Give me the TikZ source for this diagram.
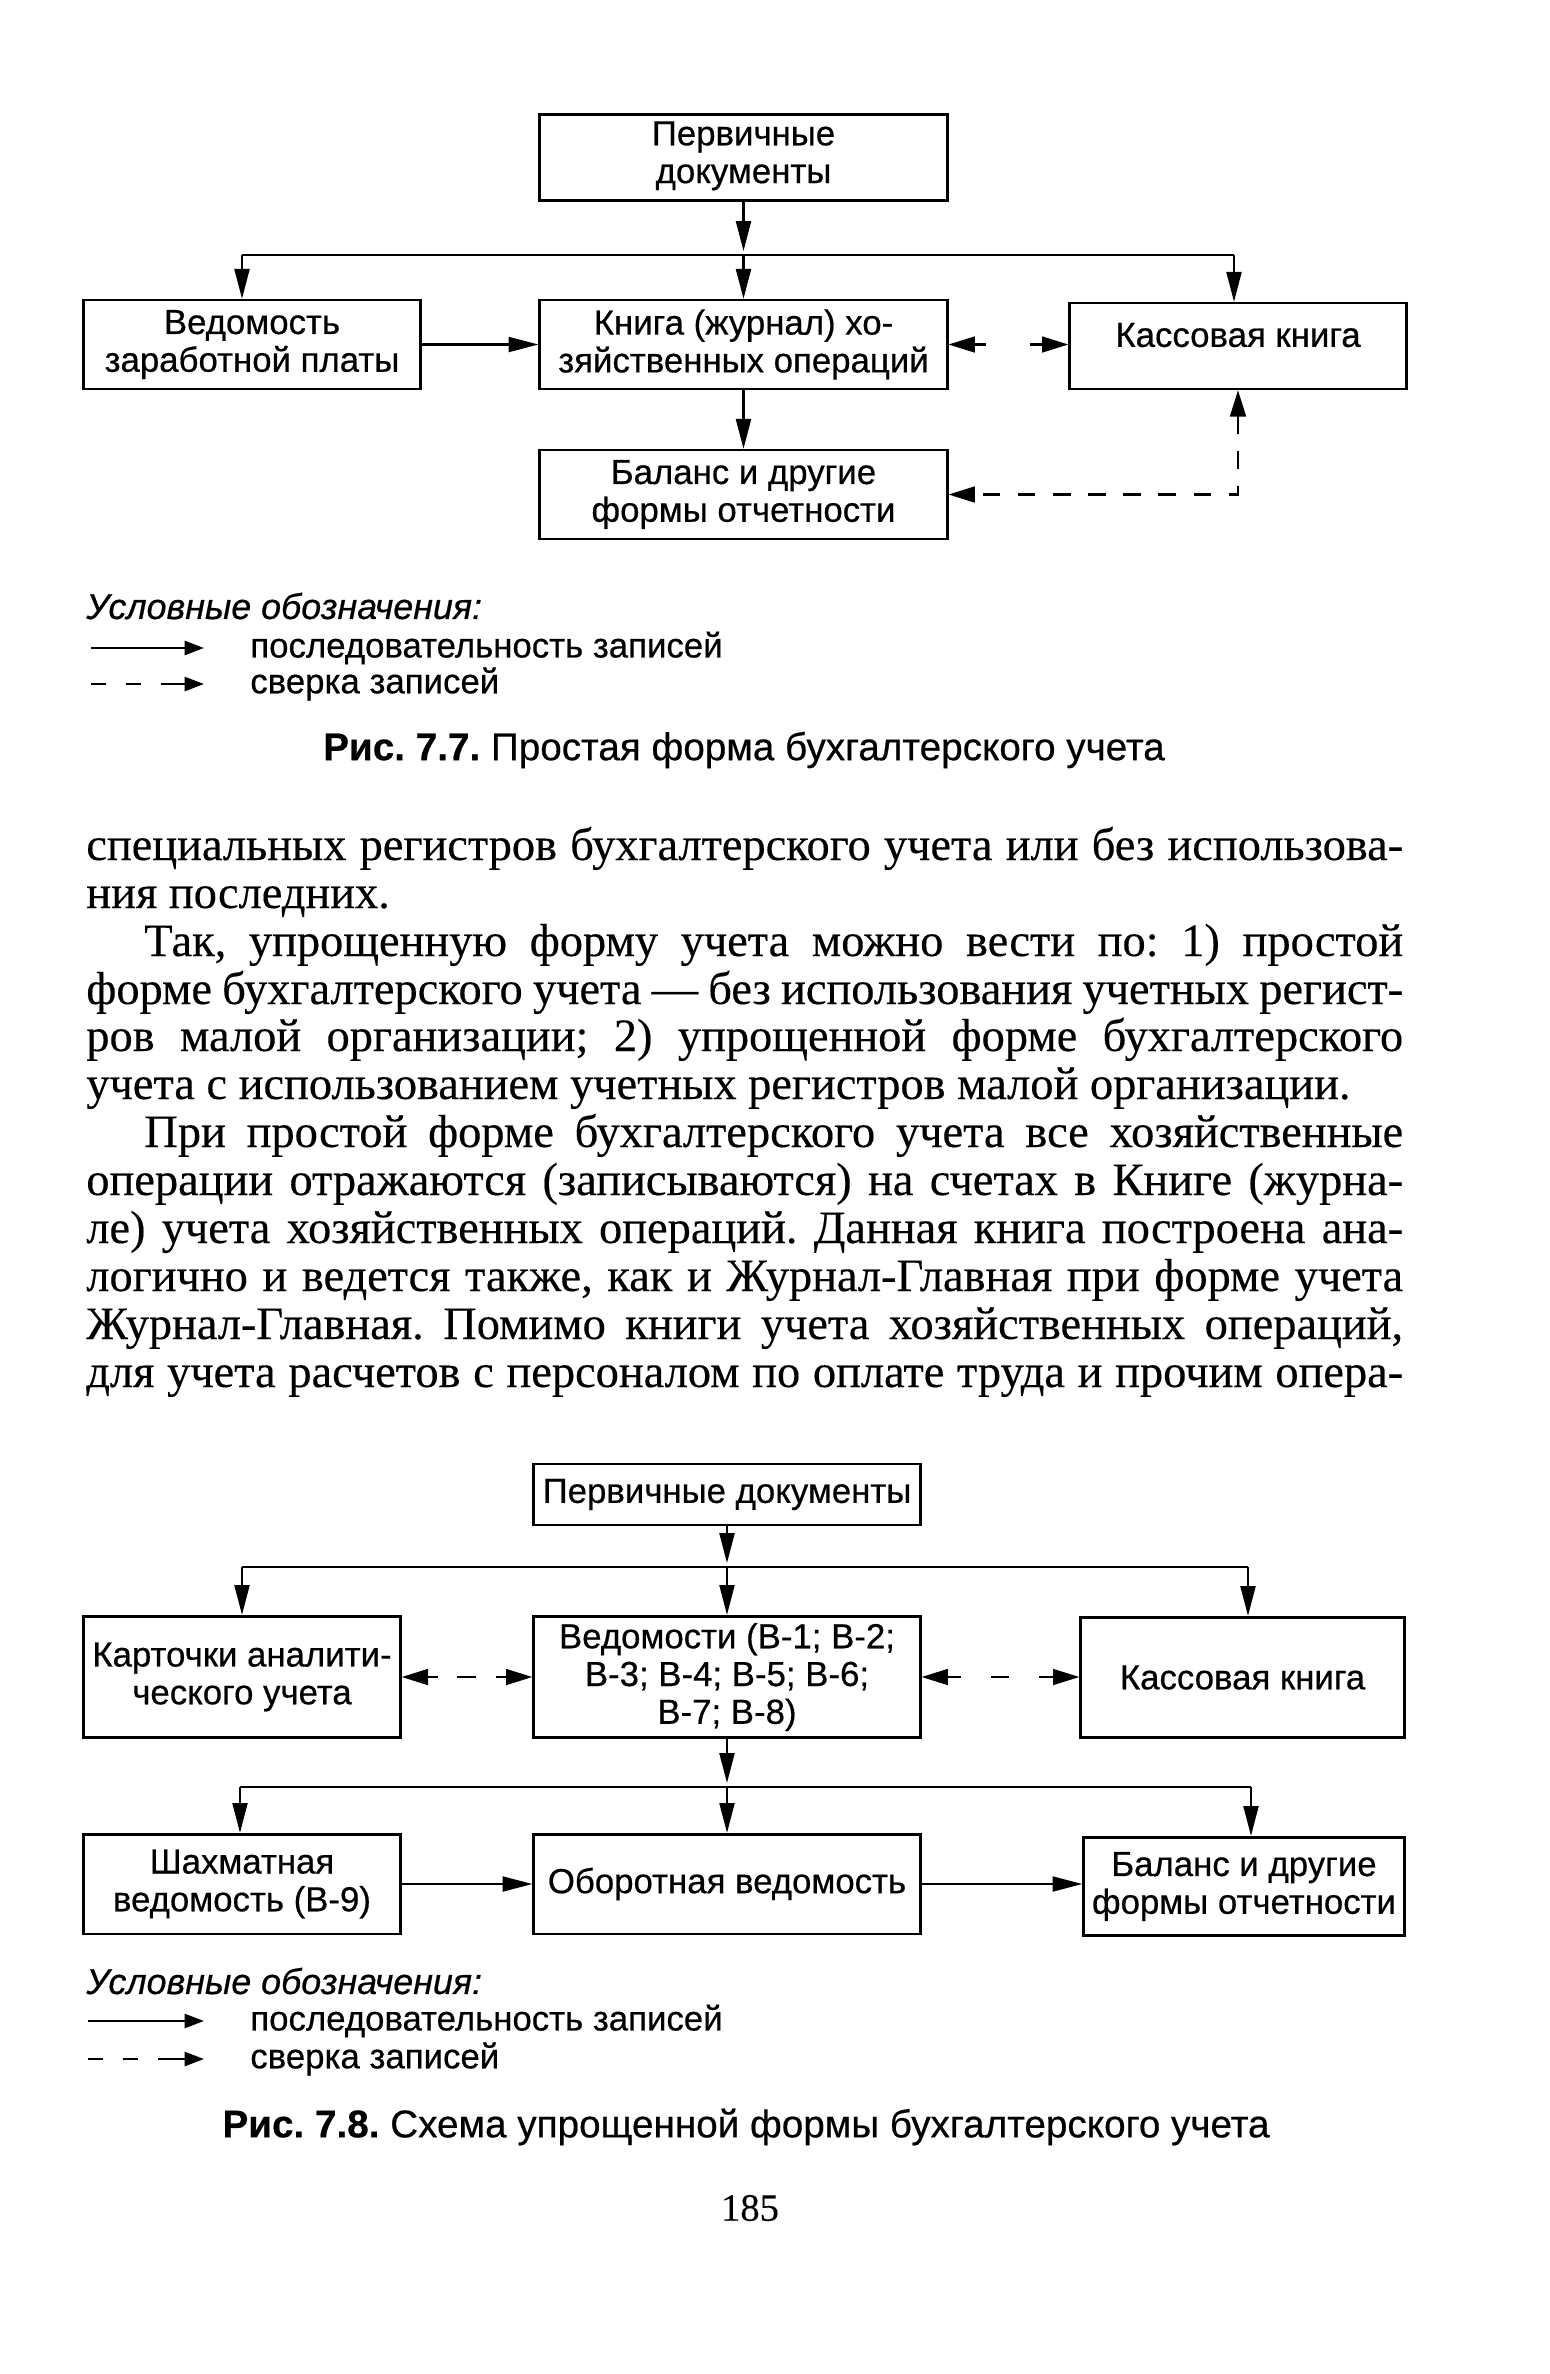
\documentclass[tikz,border=0pt]{standalone}
\usepackage{fontspec}
\setmainfont{Liberation Serif}[FakeBold=0.3]
\newfontfamily\dsans{Liberation Sans}[FakeBold=0.5]
\usetikzlibrary{arrows.meta}
\frenchspacing
\newcommand{\jl}[1]{\makebox[749.5pt][s]{#1}}
\newcommand{\ji}[1]{\makebox[716.5pt][s]{#1}}
\newcommand{\bodyfont}{\fontsize{26.4}{29}\selectfont\spaceskip=0.25em plus 2em minus 0.12em\relax}
\begin{document}
\begin{tikzpicture}[x=0.02cm,y=-0.02cm,
  box/.style={draw, line width=1.5pt, inner sep=1pt, align=center,
    font=\dsans\fontsize{19.8}{21.5}\selectfont},
  conn/.style={line width=1.3pt},
  arr/.style={conn,-{Triangle[length=17pt,width=8.5pt]}},
  darr/.style={conn,{Triangle[length=15pt,width=9pt]}-{Triangle[length=15pt,width=9pt]}},
  legarr/.style={conn,-{Triangle[length=11pt,width=8pt]}},
  body/.style={anchor=base west, inner sep=0pt, font=\bodyfont},
  legtxt/.style={anchor=west, inner sep=0pt, font=\dsans\fontsize{19.8}{21.5}\selectfont},
  capt/.style={inner sep=0pt, font=\dsans\fontsize{22}{25}\selectfont}]
\useasboundingbox[fill=white] (0,0) rectangle (1549,2374);

% ---------------- Figure 7.7 ----------------
\node[box, minimum width=231.9pt, minimum height=49.3pt, text depth=6pt] (perv1) at (743.5,157.5) {Первичные\\документы};
\node[box, minimum width=191.6pt, minimum height=50.5pt] (vedz) at (252,344.5) {Ведомость\\заработной платы};
\node[box, minimum width=231.9pt, minimum height=50.5pt] (kniga) at (743.5,344.5) {Книга (журнал) хо-\\зяйственных операций};
\node[box, minimum width=191.6pt, minimum height=48.8pt, text height=13pt, text depth=12pt] (kassa1) at (1238,346) {Кассовая книга};
\node[box, minimum width=231.9pt, minimum height=50.5pt] (bal1) at (743.5,494.5) {Баланс и другие\\формы отчетности};

\coordinate (j1) at (743.5,255);
\coordinate (j1t) at (743.5,251);
\coordinate (j1l) at (242,255);
\coordinate (j1r) at (1234,255);
\draw[arr] (perv1.south) -- (j1t);
\draw[conn] (j1l) -- (j1r);
\draw[arr] (j1l) -- (j1l |- vedz.north);
\draw[arr] (j1) -- (kniga.north);
\draw[arr] (j1r) -- (j1r |- kassa1.north);
\draw[arr] (vedz.east) -- (kniga.west);
\draw[darr, dash pattern=on 6.8pt off 25pt on 6.8pt off 100pt] (kniga.east) -- (kniga.east -| kassa1.west);
\draw[arr] (kniga.south) -- (bal1.north);
\draw[darr, dash pattern=on 10pt off 10pt] (kassa1.south) |- (bal1.east);

% legend 1
\node[legtxt, font=\dsans\itshape\fontsize{20.4}{22}\selectfont] (leg1h) at (86,606) {Условные обозначения:};
\coordinate (l1a) at (91,648); \coordinate (l1b) at (204,648);
\coordinate (l1c) at (91,684); \coordinate (l1d) at (204,684);
\draw[legarr] (l1a) -- (l1b);
\draw[legarr, dash pattern=on 8.5pt off 11.3pt on 8.5pt off 11.3pt on 20pt] (l1c) -- (l1d);
\node[legtxt] (leg1a) at (250,648) {последовательность записей};
\node[legtxt] (leg1b) at (250,684) {сверка записей};
\node[capt] (cap1) at (744,750) {{\bfseries Рис. 7.7.} Простая форма бухгалтерского учета};

% ---------------- body text ----------------
\node[body] (t1) at (86,860) {\jl{специальных регистров бухгалтерского учета или без использова-}};
\node[body] (t2) at (86,908) {ния последних.};
\node[body] (t3) at (144,956) {\ji{Так, упрощенную форму учета можно вести по: 1) простой}};
\node[body] (t4) at (86,1004) {\jl{форме бухгалтерского учета — без использования учетных регист-}};
\node[body] (t5) at (86,1051) {\jl{ров малой организации; 2) упрощенной форме бухгалтерского}};
\node[body] (t6) at (86,1099) {учета с использованием учетных регистров малой организации.};
\node[body] (t7) at (144,1147) {\ji{При простой форме бухгалтерского учета все хозяйственные}};
\node[body] (t8) at (86,1195) {\jl{операции отражаются (записываются) на счетах в Книге (журна-}};
\node[body] (t9) at (86,1243) {\jl{ле) учета хозяйственных операций. Данная книга построена ана-}};
\node[body] (t10) at (86,1291) {\jl{логично и ведется также, как и Журнал-Главная при форме учета}};
\node[body] (t11) at (86,1339) {\jl{Журнал-Главная. Помимо книги учета хозяйственных операций,}};
\node[body] (t12) at (86,1387) {\jl{для учета расчетов с персоналом по оплате труда и прочим опера-}};

% ---------------- Figure 7.8 ----------------
\node[box, minimum width=220pt, minimum height=34.6pt] (perv2) at (727,1494.5) {Первичные документы};
\node[box, minimum width=180.3pt, minimum height=69.2pt] (kart) at (242,1677) {Карточки аналити-\\ческого учета};
\node[box, minimum width=220pt, minimum height=69.2pt] (ved) at (727,1677) {Ведомости (В-1; В-2;\\В-3; В-4; В-5; В-6;\\В-7; В-8)};
\node[box, minimum width=184.2pt, minimum height=68.6pt] (kassa2) at (1242.5,1677.5) {Кассовая книга};
\node[box, minimum width=180.3pt, minimum height=56.7pt] (shah) at (242,1884) {Шахматная\\ведомость (В-9)};
\node[box, minimum width=220pt, minimum height=56.7pt] (obor) at (727,1884) {Оборотная ведомость};
\node[box, minimum width=182.5pt, minimum height=56.1pt] (bal2) at (1244,1886.5) {Баланс и другие\\формы отчетности};

\coordinate (j2) at (727,1567);
\coordinate (j2t) at (727,1563);
\coordinate (j2l) at (242,1567);
\coordinate (j2r) at (1248,1567);
\draw[arr] (perv2.south) -- (j2t);
\draw[conn] (j2l) -- (j2r);
\draw[arr] (j2l) -- (kart.north);
\draw[arr] (j2) -- (ved.north);
\draw[arr] (j2r) -- (j2r |- kassa2.north);
\draw[darr, dash pattern=on 5.7pt off 11.3pt on 10.8pt off 11.3pt on 5.7pt off 50pt] (kart.east) -- (ved.west);
\draw[darr, dash pattern=on 7.9pt off 17pt on 10.2pt off 17pt on 7.9pt off 50pt] (ved.east) -- (ved.east -| kassa2.west);

\coordinate (j3) at (727,1787);
\coordinate (j3t) at (727,1783);
\coordinate (j3l) at (240,1787);
\coordinate (j3r) at (1251,1787);
\draw[arr] (ved.south) -- (j3t);
\draw[conn] (j3l) -- (j3r);
\draw[arr] (j3l) -- (j3l |- shah.north);
\draw[arr] (j3) -- (obor.north);
\draw[arr] (j3r) -- (j3r |- bal2.north);
\draw[arr] (shah.east) -- (obor.west);
\draw[arr] (obor.east) -- (obor.east -| bal2.west);

% legend 2
\node[legtxt, font=\dsans\itshape\fontsize{20.4}{22}\selectfont] (leg2h) at (86,1981) {Условные обозначения:};
\coordinate (l2a) at (88,2021); \coordinate (l2b) at (204,2021);
\coordinate (l2c) at (88,2059); \coordinate (l2d) at (204,2059);
\draw[legarr] (l2a) -- (l2b);
\draw[legarr, dash pattern=on 8.5pt off 11.3pt on 8.5pt off 11.3pt on 20pt] (l2c) -- (l2d);
\node[legtxt] (leg2a) at (250,2021) {последовательность записей};
\node[legtxt] (leg2b) at (250,2059) {сверка записей};
\node[capt] (cap2) at (746,2127) {{\bfseries Рис. 7.8.} Схема упрощенной формы бухгалтерского учета};

\node[inner sep=0pt, font=\fontsize{22}{26}\selectfont] (pnum) at (750,2208) {185};
\end{tikzpicture}
\end{document}
